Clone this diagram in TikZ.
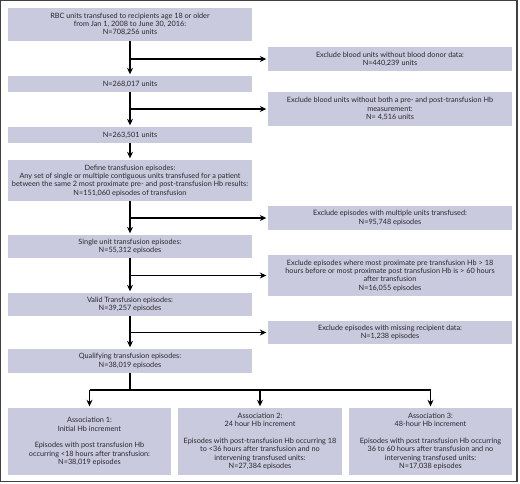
\documentclass[tikz,border=0pt]{standalone}
\usepackage{fontspec}
\setmainfont{Lato}
\usetikzlibrary{arrows.meta}
\definecolor{boxfill}{RGB}{201,202,221}
\definecolor{txt}{RGB}{40,40,45}
\begin{document}
\begin{tikzpicture}[x=1pt,y=-1pt,
  every node/.style={font=\fontsize{7.3}{8.3}\selectfont, text=txt},
  boxbase/.style={fill=boxfill, draw=none, inner sep=0pt, align=center, anchor=center},
  lbox/.style={boxbase, minimum width=244pt},
  rbox/.style={boxbase, minimum width=244pt},
  bbox/.style={boxbase, minimum width=163.5pt, minimum height=67pt},
  conn/.style={line width=1.1pt, black},
  arr/.style={conn, -{Stealth[length=6.5pt,width=6pt]}, shorten >=1.5pt}]
\useasboundingbox (0,0) rectangle (520,483);
\draw[line width=1.3pt, black!75] (0.8,0.8) rectangle (517,481.6);
% left column
\node[lbox, minimum height=33pt] (l1) at (130,24.5) {RBC units transfused to recipients age 18 or older\\from Jan 1, 2008 to June 30, 2016:\\N=708,256 units};
\node[lbox, minimum height=16pt] (l2) at (130,84) {N=268,017 units};
\node[lbox, minimum height=16pt] (l3) at (130,135) {N=263,501 units};
\node[lbox, minimum height=41pt] (l4) at (130,180.5) {Define transfusion episodes:\\Any set of single or multiple contiguous units transfused for a patient\\between the same 2 most proximate pre- and post-transfusion Hb results:\\N=151,060 episodes of transfusion};
\node[lbox, minimum height=23pt] (l5) at (130,246.5) {Single unit transfusion episodes:\\N=55,312 episodes};
\node[lbox, minimum height=23pt] (l6) at (130,304.5) {Valid Transfusion episodes:\\N=39,257 episodes};
\node[lbox, minimum height=24pt] (l7) at (130,361) {Qualifying transfusion episodes:\\N=38,019 episodes};
% right column
\node[rbox, minimum height=24pt] (r1) at (390,59) {Exclude blood units without blood donor data:\\N=440,239 units};
\node[rbox, minimum height=34pt] (r2) at (390,109) {Exclude blood units without both a pre- and post-transfusion Hb\\measurement:\\N= 4,516 units};
\node[rbox, minimum height=24pt] (r3) at (390,218) {Exclude episodes with multiple units transfused:\\N=95,748 episodes};
\node[rbox, minimum height=41pt] (r4) at (390,275.5) {Exclude episodes where most proximate pre transfusion Hb > 18\\hours before or most proximate post transfusion Hb is > 60 hours\\after transfusion\\N=16,055 episodes};
\node[rbox, minimum height=23pt] (r5) at (390,332.5) {Exclude episodes with missing recipient data:\\N=1,238 episodes};
% bottom row
\node[bbox] (b1) at (89.5,441.5) {Association 1:\\Initial Hb increment\\[8.3pt]Episodes with post transfusion Hb\\occurring <18 hours after transfusion:\\N=38,019 episodes};
\node[bbox] (b2) at (260,441.5) {Association 2:\\24 hour Hb increment\\[8.3pt]Episodes with post-transfusion Hb occurring 18\\to <36 hours after transfusion and no\\intervening transfused units:\\N=27,384 episodes};
\node[bbox] (b3) at (430.5,441.5) {Association 3:\\48-hour Hb increment\\[8.3pt]Episodes with post transfusion Hb occurring\\36 to 60 hours after transfusion and no\\intervening transfused units:\\N=17,038 episodes};
% connectors
\draw[arr] (l1) -- (l2);
\draw[arr] (l2) -- (l3);
\draw[arr] (l3) -- (l4);
\draw[arr] (l4) -- (l5);
\draw[arr] (l5) -- (l6);
\draw[arr] (l6) -- (l7);
\draw[arr] (l1.south |- r1.west) -- (r1.west);
\draw[arr] (l2.south |- r2.west) -- (r2.west);
\draw[arr] (l4.south |- r3.west) -- (r3.west);
\draw[arr] (l5.south |- r4.west) -- (r4.west);
\draw[arr] (l6.south |- r5.west) -- (r5.west);
\coordinate (sp) at (130,390);
\draw[conn] (l7.south) -- (sp);
\draw[conn] (sp -| b1.north) -- (sp -| b3.north);
\draw[arr] (sp -| b1.north) -- (b1.north);
\draw[arr] (sp -| b2.north) -- (b2.north);
\draw[arr] (sp -| b3.north) -- (b3.north);
\end{tikzpicture}
\end{document}
